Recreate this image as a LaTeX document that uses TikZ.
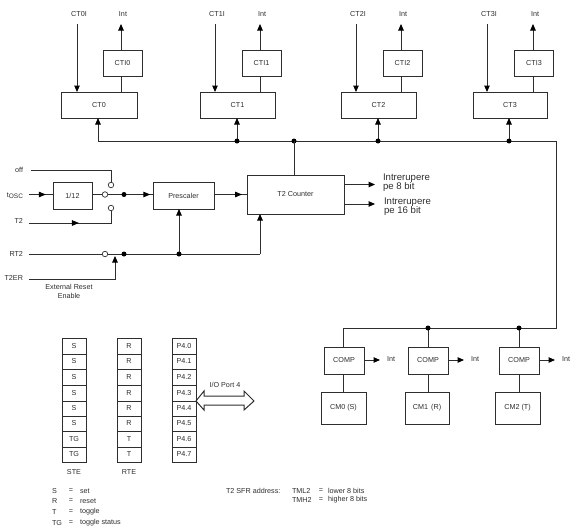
\documentclass[tikz,border=0pt]{standalone}
\usepackage{fontspec}
\setmainfont{Liberation Sans}
\usetikzlibrary{arrows.meta,decorations.markings}
\definecolor{ink}{gray}{0.18}
\tikzset{
  x=1pt,y=-1pt,
  wire/.style={draw=ink,line width=1pt},
  arr/.style={wire,-{Triangle[length=6.5pt,width=5.5pt,fill=black,color=black]}},
  arrowat/.style={postaction={decorate,decoration={markings,mark=at position #1 with {\arrow{Triangle[length=7pt,width=5.5pt,fill=black,color=black]}}}}},
  blk/.style={draw=ink,line width=1pt,fill=white,inner sep=0pt,outer sep=0pt,font=\fontsize{7.2}{8}\selectfont,text=ink},
  cell/.style={blk,minimum width=24pt},
  lbl/.style={inner sep=0pt,outer sep=0pt,font=\fontsize{7.2}{8.4}\selectfont,text=ink,align=center},
  big/.style={lbl,font=\fontsize{9.6}{9.4}\selectfont,align=left,anchor=west},
  dot/.style={circle,fill=black,inner sep=0pt,minimum size=5pt,outer sep=0pt},
  sw/.style={circle,draw=ink,fill=white,line width=0.7pt,inner sep=0pt,minimum size=5.5pt,outer sep=0pt},
}
\newcommand{\regcol}[3]{%
  \foreach \ri/\rt/\rb/\rs in {#3}{
    \node[cell,minimum height={\rb-\rt},anchor=north west] (#1\ri) at (#2,\rt) {\rs};
  }
}
\begin{document}
\begin{tikzpicture}
\useasboundingbox (0,0) rectangle (576,530);
% upper counters
\foreach \un/\ucx/\uix/\uax/\ubx/\ukx/\uwd in {0/99/122.5/77/121/98/76,1/237.5/261.5/215/260/237/75,2/378.5/402.5/356/401/378/75,3/510/534/487/533/509/74}{
  \node[blk,minimum width=\uwd pt,minimum height=26pt] (ct\un) at (\ucx,105) {CT\un};
  \node[blk,minimum width=39pt,minimum height=26pt] (cti\un) at (\uix,63) {CTI\un};
  \node[lbl] (in\un) at (\uax+2,14.5) {CT\un I};
  \node[lbl] (int\un) at (\ubx+2,14.5) {Int};
  \coordinate (ia\un) at (\uax,24);
  \coordinate (ib\un) at (\ubx,24);
  \coordinate (k\un) at (\ukx,141);
  \draw[arr] (ia\un) -- (ia\un |- ct\un.north);
  \draw[wire] (ib\un |- ct\un.north) -- (ib\un |- cti\un.south);
  \draw[arr] (ib\un |- cti\un.north) -- (ib\un);
  \draw[arr] (k\un) -- (k\un |- ct\un.south);
}
% bus
\coordinate (busr) at (556,141);
\coordinate (busb) at (556,328);
\coordinate (cmpl) at (343,328);
\draw[wire] (k0) -- (busr) -- (busb) -- (cmpl);
\foreach \un in {1,2,3} \node[dot] at (k\un) {};
% T2 counter
\node[blk,minimum width=97pt,minimum height=39pt] (cnt) at (295.5,194.5) {T2 Counter};
\node[blk,minimum width=61pt,minimum height=27pt] (pre) at (183.5,195.5) {Prescaler};
\node[blk,minimum width=39pt,minimum height=27pt] (div) at (72.5,195.5) {1/12};
\coordinate (kc) at (294,141);
\node[dot] at (kc) {};
\draw[wire] (kc) -- (kc |- cnt.north);
\coordinate (o1) at (375,184.5);
\coordinate (o2) at (375,204);
\draw[arr] (o1 -| cnt.east) -- (o1);
\draw[arr] (o2 -| cnt.east) -- (o2);
\node[big] (t8) at (383,182.5) {Intrerupere\\pe 8 bit};
\node[big] (t16) at (384,206.5) {Intrerupere\\pe 16 bit};
% left inputs
\node[lbl,anchor=east] (off) at (23,170) {off};
\node[lbl,anchor=east] (tosc) at (23,195.5) {t\raisebox{-1.5pt}{\fontsize{6.5}{7}\selectfont OSC}};
\node[lbl,anchor=east] (t2) at (23,221) {T2};
\node[lbl,anchor=east] (rt2) at (23,254) {RT2};
\node[lbl,anchor=east] (t2er) at (23,278) {T2ER};
\node[lbl] (ext) at (69,291.5) {External Reset\\Enable};
\node[sw] (s0) at (111,185) {};
\node[sw] (sm) at (105,194.5) {};
\node[sw] (s2) at (111,208) {};
\node[sw] (sr) at (105,254) {};
\coordinate (w0) at (31,170);
\coordinate (w1) at (29,194.5);
\coordinate (w2) at (29,223);
\coordinate (w3) at (29,254);
\coordinate (w4) at (29,279);
\draw[wire] (w0) -| (s0.north);
\draw[wire,arrowat=0.53] (w2) -| (s2.south);
\draw[wire,arrowat=0.7] (w1) -- (div.west |- w1);
\draw[wire] (div.east |- sm) -- (sm);
\draw[wire,arrowat=0.94] (sm) -- (pre.west |- sm);
\node[dot] (dsw) at (124,194.5) {};
\draw[wire,arrowat=0.85] (pre.east |- sm) -- (cnt.west |- sm);
\draw[wire] (w3) -- (sr);
\coordinate (rc) at (260,254);
\draw[wire] (sr) -- (rc);
\draw[arr] (rc) -- (rc |- cnt.south);
\node[dot] (d1) at (124,254) {};
\node[dot] (d2) at (179,254) {};
\draw[arr] (d2) -- (d2 |- pre.south);
\coordinate (ert) at (115,256);
\draw[arr] (w4) -| (ert);
% registers
\regcol{ste}{62}{0/338/354/S,1/354/369/S,2/369/385/S,3/385/401/S,4/401/416/S,5/416/431/S,6/431/447/TG,7/447/462/TG}
\regcol{rte}{117}{0/338/354/R,1/354/369/R,2/369/385/R,3/385/401/R,4/401/416/R,5/416/431/R,6/431/447/T,7/447/462/T}
\regcol{pf}{172}{0/338/354/P4.0,1/354/369/P4.1,2/369/385/P4.2,3/385/401/P4.3,4/401/416/P4.4,5/416/431/P4.5,6/431/447/P4.6,7/447/462/P4.7}
\node[lbl] (ste) at (74,472) {STE};
\node[lbl] (rte) at (129,472) {RTE};
\node[lbl] (iop) at (225,385) {I/O Port 4};
\draw[wire] (196,401) -- (204,391) -- (204,396) -- (244,396) -- (244,391) -- (254,401) -- (244,410) -- (244,405) -- (204,405) -- (204,410) -- cycle;
% legend
\foreach \ly/\lk/\lv/\nm in {491/S/set/a,501/R/reset/b,512/T/toggle/c,523/TG/toggle status/d}{
  \node[lbl,anchor=west] (lk\nm) at (52,\ly) {\lk};
  \node[lbl] (le\nm) at (71,\ly) {=};
  \node[lbl,anchor=west] (lv\nm) at (80,\ly) {\lv};
}
\node[lbl,anchor=west] (sfr) at (226,491) {T2 SFR address:};
\node[lbl,anchor=west] (tml) at (292,491) {TML2};
\node[lbl] (tmle) at (321,491) {=};
\node[lbl,anchor=west] (tmlv) at (328,491) {lower 8 bits};
\node[lbl,anchor=west] (tmh) at (292,500) {TMH2};
\node[lbl] (tmhe) at (321,500) {=};
\node[lbl,anchor=west] (tmhv) at (328,500) {higher 8 bits};
% comparators
\foreach \cn/\cc/\cmx/\cj/\clab/\cix/\cwd in {0/344/343.5/343/CM0 (S)/391/45,1/428/427/428/CM1 {\,}(R)/475/44,2/519/517.5/519/CM2 (T)/566/45}{
  \node[blk,minimum width=40pt,minimum height=27pt] (cmp\cn) at (\cc,360.5) {COMP};
  \node[blk,minimum width=\cwd pt,minimum height=32pt] (cm\cn) at (\cmx,408) {\clab};
  \node[lbl] (ci\cn) at (\cix,359) {Int};
  \coordinate (cu\cn) at (\cj,328);
  \coordinate (ca\cn) at (\cc+36,360);
  \draw[wire] (cu\cn) -- (cu\cn |- cmp\cn.north);
  \draw[wire] (cu\cn |- cmp\cn.south) -- (cu\cn |- cm\cn.north);
  \draw[arr] (cmp\cn.east |- ca\cn) -- (ca\cn);
}
\node[dot] at (cu1) {};
\node[dot] at (cu2) {};
\end{tikzpicture}
\end{document}
